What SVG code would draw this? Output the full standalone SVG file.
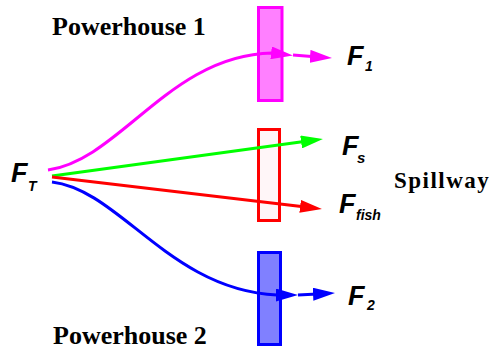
<svg xmlns="http://www.w3.org/2000/svg" width="492" height="351" viewBox="0 0 492 351">
<style>
.lbl{font-family:"Liberation Serif","Times New Roman",serif;font-weight:bold;font-size:26px;fill:#000}
.f{font-family:"Liberation Sans",Arial,sans-serif;font-weight:bold;font-style:italic;font-size:27px;fill:#000}
.sub{font-size:14px}
.ln{fill:none;stroke-width:3}
</style>
<defs>
<marker id="am" markerUnits="userSpaceOnUse" markerWidth="22" markerHeight="13" refX="14" refY="6.5" orient="auto"><path d="M0,0 L22,6.5 L0,13 z" fill="#FF00FF"/></marker>
<marker id="ag" markerUnits="userSpaceOnUse" markerWidth="22" markerHeight="13" refX="14" refY="6.5" orient="auto"><path d="M0,0 L22,6.5 L0,13 z" fill="#00FF00"/></marker>
<marker id="ar" markerUnits="userSpaceOnUse" markerWidth="22" markerHeight="13" refX="14" refY="6.5" orient="auto"><path d="M0,0 L22,6.5 L0,13 z" fill="#FF0000"/></marker>
<marker id="ab" markerUnits="userSpaceOnUse" markerWidth="22" markerHeight="13" refX="14" refY="6.5" orient="auto"><path d="M0,0 L22,6.5 L0,13 z" fill="#0000FF"/></marker>
</defs>
<g id="powerhouse1">
<rect x="258.5" y="7.5" width="23.5" height="93" fill="#FF80FF" stroke="#FF00FF" stroke-width="3"/>
<text class="lbl" x="52" y="35">Powerhouse 1</text>
</g>
<g id="spillway">
<rect x="258.5" y="129.5" width="21" height="91" fill="#FFF6F8" stroke="#FF0000" stroke-width="3"/>
<text class="lbl" x="394" y="188" style="font-size:23px;letter-spacing:1.5px">Spillway</text>
</g>
<g id="powerhouse2">
<rect x="258.5" y="252.5" width="22" height="92" fill="#8080FF" stroke="#0000FF" stroke-width="3"/>
<text class="lbl" x="53" y="344">Powerhouse 2</text>
</g>
<g id="FT"><text class="f" x="11" y="182">F<tspan class="sub" x="28" y="191">T</tspan></text></g>
<g id="F1"><text class="f" x="347" y="65">F<tspan class="sub" x="365" y="71">1</tspan></text></g>
<g id="Fs"><text class="f" x="342" y="155">F<tspan class="sub" x="357" y="163" style="font-size:15px">s</tspan></text></g>
<g id="Ffish"><text class="f" x="339" y="213">F<tspan class="sub" x="356" y="220">fish</tspan></text></g>
<g id="F2"><text class="f" x="348" y="305">F<tspan class="sub" x="367" y="310">2</tspan></text></g>
<g id="connectors">
<path class="ln" stroke="#FF00FF" d="M48,170 C120,160 170,55 272,53 L285,54.5" marker-end="url(#am)"/>
<path class="ln" stroke="#FF00FF" d="M293,55 L324,57.4" marker-end="url(#am)"/>
<path class="ln" stroke="#00FF00" d="M52,176 L315,140.1" marker-end="url(#ag)"/>
<path class="ln" stroke="#FF0000" d="M52,177 L314,208" marker-end="url(#ar)"/>
<path class="ln" stroke="#0000FF" d="M52,182 C120,190 170,290 277,295 L290,295" marker-end="url(#ab)"/>
<path class="ln" stroke="#0000FF" d="M298,295 L327,293.4" marker-end="url(#ab)"/>
</g>
</svg>
